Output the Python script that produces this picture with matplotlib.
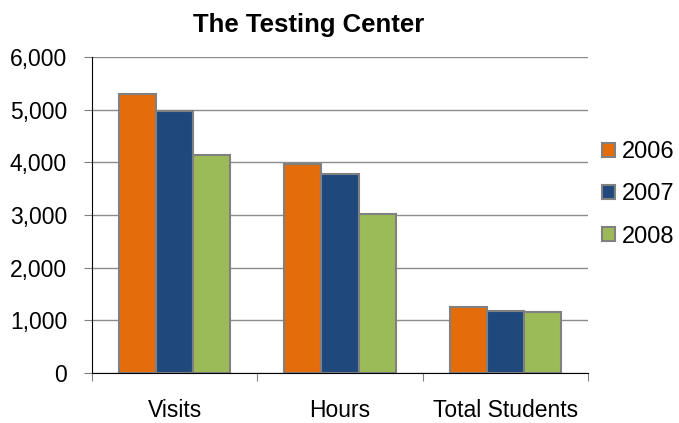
import matplotlib
matplotlib.use("Agg")
import matplotlib.pyplot as plt
import numpy as np
from matplotlib.ticker import FuncFormatter

plt.rcParams["font.family"] = ["Liberation Sans", "DejaVu Sans"]

categories = ["Visits", "Hours", "Total Students"]
years = ["2006", "2007", "2008"]
values_2006 = [5290, 3970, 1260]
values_2007 = [4970, 3780, 1170]
values_2008 = [4130, 3020, 1150]
colors = ["#E46C0A", "#1F497D", "#9BBB59"]

fig = plt.figure(figsize=(6.79, 4.23), dpi=100)
ax = fig.add_axes([92 / 679, 1 - 373 / 423, 496 / 679, 316 / 423])

x = np.arange(len(categories))
w = 0.224
series = [values_2006, values_2007, values_2008]
for i, (vals, col, yr) in enumerate(zip(series, colors, years)):
    ax.bar(x + (i - 1) * w, vals, w, color=col, edgecolor="#808080",
           linewidth=1.5, label=yr, zorder=3)

ax.set_xlim(-0.5, 2.5)
ax.set_ylim(0, 6000)
ax.set_yticks(range(0, 6001, 1000))
ax.yaxis.set_major_formatter(FuncFormatter(lambda v, p: f"{int(v):,}"))
ax.grid(axis="y", color="#8c8c8c", linewidth=1, zorder=0)

ax.set_xticks([-0.5, 0.5, 1.5, 2.5])
ax.set_xticklabels([])
ax.set_xticks(x, minor=True)
ax.set_xticklabels(categories, minor=True, fontsize=16.5)
ax.tick_params(axis="x", which="minor", length=0, pad=19)
ax.tick_params(axis="x", which="major", length=6, color="#808080", direction="out")
ax.tick_params(axis="y", length=6, color="#808080", labelsize=16.5, pad=12)

for s in ["top", "right"]:
    ax.spines[s].set_visible(False)
ax.spines["left"].set_color("black")
ax.spines["bottom"].set_color("black")
ax.spines["left"].set_zorder(4)
ax.spines["bottom"].set_zorder(4)

fig.text(0.454, 1 - 25 / 423, "The Testing Center", ha="center", va="center",
         fontsize=18.5, fontweight="bold")

leg = ax.legend(loc="center left", bbox_to_anchor=(0.985, 0.565), frameon=False,
                fontsize=17, handlelength=0.55, handleheight=0.55,
                handletextpad=0.3, labelspacing=0.85)

fig.savefig("out.png", dpi=100)
